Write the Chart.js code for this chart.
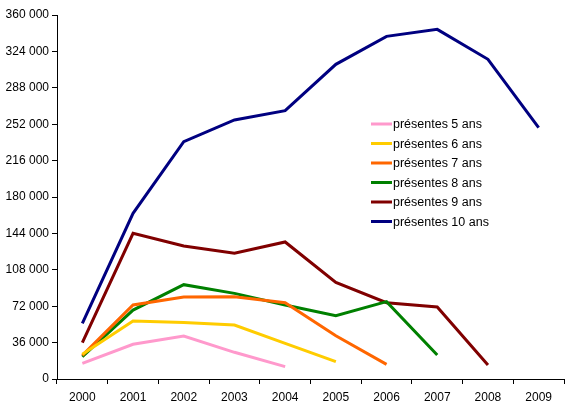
<!DOCTYPE html>
<html>
<head>
<meta charset="utf-8">
<script src="https://cdn.jsdelivr.net/npm/chart.js@4"></script>
<style>
  html, body { margin: 0; padding: 0; background: #fff; }
  #wrap { width: 571px; height: 405px; position: relative; }
</style>
</head>
<body>
<div id="wrap"><canvas id="myChart"></canvas></div>
<script>
// years on the x axis
var years = ['2000', '2001', '2002', '2003', '2004', '2005', '2006', '2007', '2008', '2009'];

// one array per series (null = no value)
var present5 = [15500, 34300, 42500, 26400, 12200, null, null, null, null, null];
var present6 = [24400, 57400, 56000, 53400, 35300, 17100, null, null, null, null];
var present7 = [23400, 73200, 81100, 81400, 75500, 42800, 14500, null, null, null];
var present8 = [22000, 68200, 93300, 84700, 73200, 62600, 76500, 23700, null, null];
var present9 = [35900, 144100, 131500, 124300, 135500, 95600, 75500, 71200, 13800, null];
var present10 = [55000, 163900, 234700, 256200, 265400, 311200, 338900, 345800, 316200, 248600];

var seriesNames = ['présentes 5 ans', 'présentes 6 ans', 'présentes 7 ans', 'présentes 8 ans', 'présentes 9 ans', 'présentes 10 ans'];
var seriesColors = ['#FF99CC', '#FFCC00', '#FF6600', '#008000', '#800000', '#000080'];
var seriesData = [present5, present6, present7, present8, present9, present10];

var datasets = [];
for (var i = 0; i < seriesData.length; i++) {
    datasets.push({
        label: seriesNames[i],
        data: seriesData[i],
        borderColor: seriesColors[i],
        backgroundColor: seriesColors[i],
        borderWidth: 3,
        pointRadius: 0,
        tension: 0,
        spanGaps: false
    });
}

// legend drawn inside the plot area, like the original
var innerLegend = {
    id: 'innerLegend',
    afterDraw: function (chart) {
        var ctx = chart.ctx;
        var x = 371, y = 124, step = 19.5;
        ctx.save();
        ctx.font = '12.5px "Liberation Sans", Arial, sans-serif';
        ctx.textBaseline = 'middle';
        ctx.fillStyle = '#000';
        chart.data.datasets.forEach(function (ds, k) {
            var yy = y + k * step;
            ctx.strokeStyle = ds.borderColor;
            ctx.lineWidth = 3;
            ctx.beginPath();
            ctx.moveTo(x, yy);
            ctx.lineTo(x + 21, yy);
            ctx.stroke();
            ctx.fillText(ds.label, x + 22, yy + 1);
        });
        ctx.restore();
    }
};

function createChart() {
    var ctx = document.getElementById('myChart').getContext('2d');
    Chart.defaults.font.family = '"Liberation Sans", Arial, sans-serif';
    Chart.defaults.font.size = 12;
    Chart.defaults.color = '#000';
    new Chart(ctx, {
        type: 'line',
        data: { labels: years, datasets: datasets },
        options: {
            responsive: true,
            maintainAspectRatio: false,
            animation: false,
            layout: { padding: { top: 15, right: 7, left: 0, bottom: 0 } },
            plugins: { legend: { display: false }, tooltip: { enabled: false } },
            scales: {
                x: {
                    offset: true,
                    grid: { offset: true, drawOnChartArea: false, tickLength: 5, color: '#000' },
                    border: { color: '#000', width: 1 },
                    ticks: { padding: 6, maxRotation: 0, autoSkip: false },
                    afterFit: function (s) { s.height = 26; }
                },
                y: {
                    min: 0,
                    max: 360000,
                    grid: { drawOnChartArea: false, tickLength: 5, color: '#000' },
                    border: { color: '#000', width: 1 },
                    ticks: {
                        stepSize: 36000,
                        padding: 3,
                        callback: function (v) {
                            return String(v).replace(/\B(?=(\d{3})+(?!\d))/g, ' ');
                        }
                    },
                    afterFit: function (s) { s.width = 57; }
                }
            }
        },
        plugins: [innerLegend]
    });
}
createChart();
</script>
</body>
</html>
